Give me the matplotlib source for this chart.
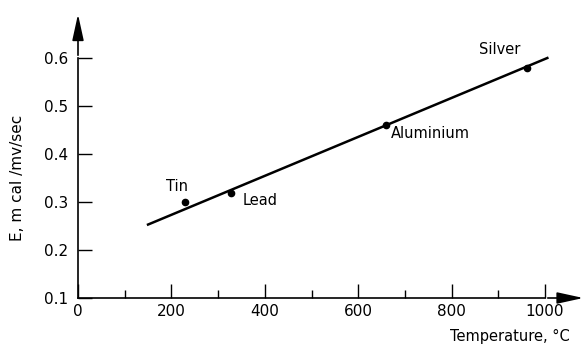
import matplotlib
matplotlib.use("Agg")
import matplotlib.pyplot as plt
from matplotlib.ticker import MultipleLocator

metals = ["Tin", "Lead", "Aluminium", "Silver"]
temps = [230, 328, 660, 962]
E_vals = [0.300, 0.318, 0.460, 0.580]
fit_x = [150, 1005]
fit_y = [0.253, 0.600]

plt.rcParams['font.family'] = ['DejaVu Sans']
fig = plt.figure(figsize=(5.88, 3.49), dpi=100)
ax = fig.add_axes([78/588, 51/349, 467/588, 240/349])
ax.set_xlim(0, 1000)
ax.set_ylim(0.1, 0.6)

ax.plot(fit_x, fit_y, color='black', lw=1.8, clip_on=False)
ax.plot(temps, E_vals, 'o', color='black', ms=4.5, clip_on=False)

label_pos = {"Tin": (213, 0.333, 'center', 'center'),
             "Lead": (352, 0.318, 'left', 'top'),
             "Aluminium": (670, 0.458, 'left', 'top'),
             "Silver": (902, 0.617, 'center', 'center')}
for m in metals:
    x, y, ha, va = label_pos[m]
    ax.text(x, y, m, ha=ha, va=va, fontsize=10.5)

for s in ['top', 'right']:
    ax.spines[s].set_visible(False)
for s in ['left', 'bottom']:
    ax.spines[s].set_linewidth(1.2)

# axis arrows
ax.annotate('', xy=(1088, 0.1), xytext=(1000, 0.1), xycoords='data',
            arrowprops=dict(arrowstyle='-|>,head_length=1.6,head_width=0.35', color='black', lw=1.2),
            annotation_clip=False)
ax.annotate('', xy=(0, 0.697), xytext=(0, 0.6), xycoords='data',
            arrowprops=dict(arrowstyle='-|>,head_length=1.6,head_width=0.35', color='black', lw=1.2),
            annotation_clip=False)

ax.xaxis.set_major_locator(MultipleLocator(200))
ax.xaxis.set_minor_locator(MultipleLocator(100))
ax.tick_params(axis='x', which='major', direction='in', length=10, width=1, labelsize=11, pad=4)
ax.tick_params(axis='x', which='minor', direction='in', length=6, width=1)
ax.tick_params(axis='y', which='major', direction='in', length=10, width=1, labelsize=11, pad=7)
ax.set_yticks([0.1, 0.2, 0.3, 0.4, 0.5, 0.6])
ax.set_yticklabels(["0.1", "0.2", "0.3", "0.4", "0.5", "0.6"])
ax.set_xticks([0, 200, 400, 600, 800, 1000])
ax.set_xticklabels(["0", "200", "400", "600", "800", "1000"])

ax.set_ylabel("E, m cal /mv/sec", fontsize=11, labelpad=14)
fig.text(570/588, 1 - 336/349, "Temperature, °C", ha='right', va='center', fontsize=10.5)

fig.savefig("out.png", dpi=100)
